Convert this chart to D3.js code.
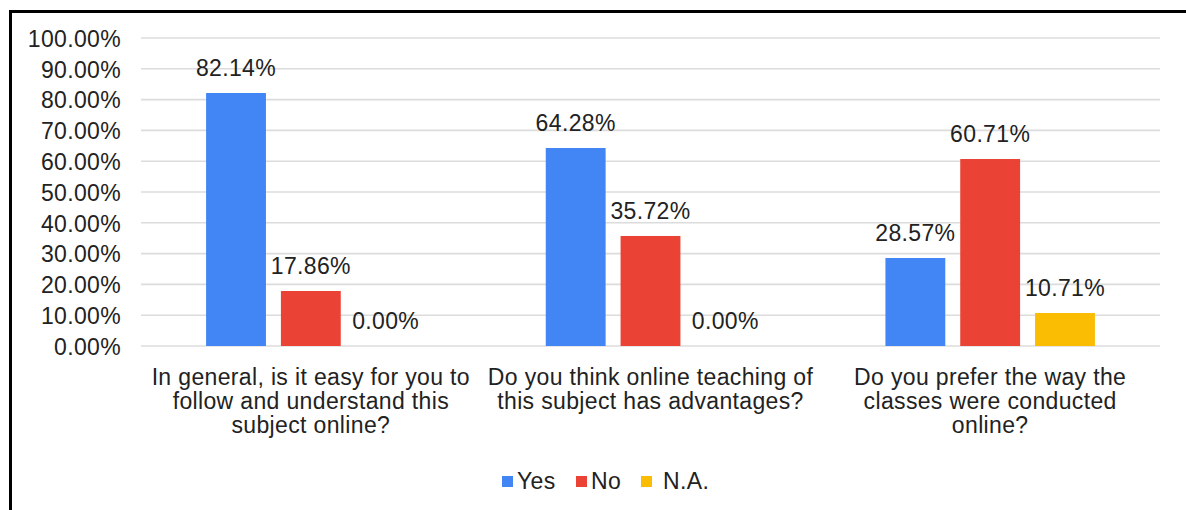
<!DOCTYPE html>
<html><head><meta charset="utf-8">
<script src="https://cdn.jsdelivr.net/npm/d3@7"></script>
<style>body{margin:0;background:#fff;} svg{display:block;font-family:"Liberation Sans",Arial,sans-serif;} text{letter-spacing:0.35px;}</style>
</head><body>
<svg id="c" width="1186" height="510"></svg>
<script>
const categories = [
  ["In general, is it easy for you to","follow and understand this","subject online?"],
  ["Do you think online teaching of","this subject has advantages?"],
  ["Do you prefer the way the","classes were conducted","online?"]
];
const series = ["Yes","No","N.A."];
const yesValues = [0.8214, 0.6428, 0.2857];
const noValues = [0.1786, 0.3572, 0.6071];
const naValues = [0.0, 0.0, 0.1071];
const yTicks = [0,0.1,0.2,0.3,0.4,0.5,0.6,0.7,0.8,0.9,1.0];
const colors = ["#4285F4","#EA4335","#FBBC04"];

const svg = d3.select("#c");
const plot = {left:141, right:1160, top:38, bottom:346};
const x0 = d3.scaleBand().domain(d3.range(categories.length)).range([plot.left, plot.right]).padding(0);
const x1 = d3.scaleBand().domain(series).range([0, x0.bandwidth()]).paddingInner(0.2).paddingOuter(0.87);
const y = d3.scaleLinear().domain([0,1]).range([plot.bottom, plot.top]);
const fmt = d3.format(".2%");
const textColor = "#222";
const fs = 23;

// frame
svg.append("line").attr("x1",10.5).attr("x2",10.5).attr("y1",10).attr("y2",510).attr("stroke","#000").attr("stroke-width",3);
svg.append("line").attr("x1",9).attr("x2",1186).attr("y1",11.5).attr("y2",11.5).attr("stroke","#000").attr("stroke-width",3);

// grid
svg.append("g").selectAll("line").data(yTicks).join("line")
  .attr("x1",plot.left).attr("x2",plot.right)
  .attr("y1",d=>y(d)).attr("y2",d=>y(d))
  .attr("stroke","#dcdcdc").attr("stroke-width",1.6);

// y axis
const yAxis = d3.axisLeft(y).tickValues(yTicks).tickFormat(fmt).tickSize(0).tickPadding(0);
const ya = svg.append("g").attr("transform",`translate(121,0)`).call(yAxis);
ya.select(".domain").remove();
ya.selectAll("text").attr("font-size",fs).attr("fill",textColor).attr("font-family","Liberation Sans, Arial, sans-serif").attr("dy","0.36em");

const data = categories.map((c,i)=>({i, vals:[yesValues[i],noValues[i],naValues[i]]}));
const groups = svg.append("g").selectAll("g").data(data).join("g")
  .attr("transform",d=>`translate(${x0(d.i)},0)`);
groups.selectAll("rect").data(d=>d.vals.map((v,k)=>({v,k}))).join("rect")
  .attr("x",d=>x1(series[d.k])).attr("width",x1.bandwidth())
  .attr("y",d=>y(d.v)).attr("height",d=>y(0)-y(d.v))
  .attr("fill",d=>colors[d.k]);
groups.selectAll("text").data(d=>d.vals.map((v,k)=>({v,k}))).join("text")
  .attr("x",d=>x1(series[d.k])+x1.bandwidth()/2).attr("y",d=>y(d.v)-17)
  .attr("text-anchor","middle").attr("font-size",fs).attr("fill",textColor)
  .text(d=>fmt(d.v));

// category labels
const cl = svg.append("g").selectAll("text").data(categories).join("text")
  .attr("x",(d,i)=>x0(i)+x0.bandwidth()/2).attr("y",385)
  .attr("text-anchor","middle").attr("font-size",fs).attr("fill",textColor);
cl.selectAll("tspan").data(d=>d).join("tspan")
  .attr("x",function(){return d3.select(this.parentNode).attr("x");})
  .attr("dy",(d,j)=>j===0?0:24).text(d=>d);

// legend
const legX = [502, 576, 641];
const lg = svg.append("g").selectAll("g").data(series).join("g")
  .attr("transform",(d,i)=>`translate(${legX[i]},476)`);
lg.append("rect").attr("width",11).attr("height",11).attr("fill",(d,i)=>colors[i]);
lg.append("text").attr("x",(d,i)=> i===2?22:15).attr("y",13).attr("font-size",fs).attr("fill",textColor).text(d=>d);
</script>
</body></html>
